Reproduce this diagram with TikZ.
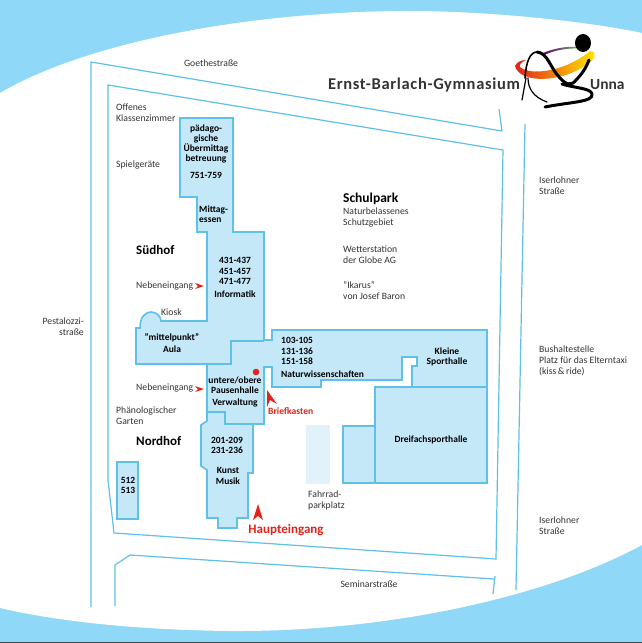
\documentclass[tikz,border=0pt]{standalone}
\usepackage{fontspec}
\setmainfont{Carlito}
\newfontfamily\titelfont[LetterSpace=4]{Carlito}
\usetikzlibrary{positioning}
\definecolor{himmel}{HTML}{8FD8F7}
\definecolor{linie}{HTML}{5FC0E8}
\definecolor{haus}{HTML}{C5E8F9}
\definecolor{rad}{HTML}{E1F2FB}
\definecolor{rot}{HTML}{E2231A}
\definecolor{schrift}{HTML}{333333}
\tikzset{
    road/.style={draw=linie,line width=1.2pt},
    bau/.style={draw=linie,fill=haus,line width=1.6pt,line join=miter},
    strasse/.style={font=\fontsize{9.7}{11}\selectfont,text=schrift,inner sep=0pt,align=left},
    links/.style={strasse,anchor=west},
    raum/.style={font=\fontsize{9.5}{10.2}\selectfont\bfseries,text=black,inner sep=0pt,align=center},
    hof/.style={font=\fontsize{13}{15}\selectfont\bfseries,text=black,inner sep=0pt,anchor=west},
    hinweis/.style={font=\fontsize{9.6}{11}\selectfont\bfseries,text=rot,inner sep=0pt},
    kopf/.style={font=\fontsize{16.5}{18}\selectfont\titelfont\bfseries,text=schrift,inner sep=0pt,anchor=west},
    pfeil/.style={fill=rot,draw=none},
    figur/.style={draw=black,line cap=round,line join=round}
}
\begin{document}
\begin{tikzpicture}[x=1pt,y=-1pt]
    \useasboundingbox (0,0) rectangle (642,643);
    % hintergrund
    \fill[himmel] (0,0) rectangle (642,643);
    \fill[white] (0,93) .. controls (90,40) and (260,10) .. (418,11)
        .. controls (500,12) and (590,22) .. (642,33) -- (642,545)
        .. controls (540,600) and (380,632) .. (230,631)
        .. controls (140,630) and (60,622) .. (0,608) -- cycle;
    \draw[black!70,line width=.8pt] (0,642.4) -- (642,642.4);

    % strassen
    \draw[road] (91,607) -- (91,62) -- (502,131) -- (499,109);
    \draw[road] (503,150) -- (108,85) -- (108,480) -- (114,533) -- (496,559) -- cycle;
    \draw[road] (115,606) -- (115,565) -- (130,555) -- (494,579);
    \draw[road] (495,576) -- (493,594);
    \draw[road] (525,124) -- (516,590);

    % gebaeude
    \draw[bau] (180,118) -- (233,118) -- (233,232) -- (264,232) -- (264,340) -- (272,340)
        -- (272,330) -- (487,330) -- (487,387) -- (412,387) -- (412,366) -- (417,366)
        -- (417,357) -- (402,357) -- (402,380) -- (321,380) -- (321,387) -- (272,387)
        -- (272,367) -- (264,367) -- (264,424) -- (253,424) -- (253,473) -- (248,473)
        -- (248,518) -- (237,518) -- (237,528) -- (218,528) -- (218,518) -- (207,518)
        -- (207,470) -- (201,466) -- (201,425) -- (207,421) -- (207,364) -- (136,364)
        -- (136,328) -- (140,328) .. controls (140,316) and (146,312) .. (151,312)
        .. controls (156,312) and (161,316) .. (161,321) -- (207,321) -- (207,232)
        -- (197,232) -- (197,197) -- (180,197) -- cycle;
    \draw[linie,line width=1.6pt] (207,364) -- (231,364) -- (231,341) -- (264,341);
    \draw[linie,line width=1.6pt] (207,412) -- (225,412) -- (225,424) -- (253,424);
    \draw[bau] (375,387) rectangle (487,483);
    \draw[bau] (343,426) rectangle (375,483);
    \draw[bau] (117,462) rectangle (138,519);
    \fill[rad] (306,425) rectangle (330,484);

    % rote marken
    \fill[rot] (256,372) circle (3.3);
    \fill[pfeil] (204,286) -- (195,283) -- (198,286) -- (195,289) -- cycle;
    \fill[pfeil] (204,389) -- (195,386) -- (198,389) -- (195,392) -- cycle;
    \fill[pfeil] (267,390) -- (267,407) -- (270,400) -- (277,404) -- cycle;
    \fill[pfeil] (258,504) -- (253,520) -- (258,516) -- (263,520) -- cycle;

    % logo
    \shade[left color=rot,middle color=orange!90!red,right color=yellow!85!orange]
        (515,66) .. controls (517,61) and (523,60) .. (526,60)
        .. controls (522,62) and (519,64) .. (520,67)
        .. controls (530,76) and (565,72) .. (590,51)
        -- (594,52) .. controls (597,58) and (590,63) .. (583,67)
        .. controls (560,82) and (520,84) .. (515,66) -- cycle;
    \shade[left color=violet!80!black,right color=green!50!black!60]
        (543,53) .. controls (555,48) and (568,46) .. (578,47)
        -- (578,48.5) .. controls (568,48) and (555,50) .. (544,55) -- cycle;
    \fill[black] (583,43) ellipse (8 and 9);
    \draw[figur,line width=1.6pt] (525,78) .. controls (526,62) and (530,52) .. (537,52);
    \draw[figur,line width=3pt] (537,52) .. controls (548,53) and (550,68) .. (560,78)
        .. controls (566,85) and (572,86) .. (576,80) .. controls (582,74) and (586,68) .. (589,60);
    \draw[figur,line width=1.2pt] (528,78) .. controls (528,88) and (533,97) .. (547,102);
    \draw[figur,line width=1.2pt] (526,78) -- (522,100);
    \draw[figur,line width=3pt] (562,84) .. controls (574,88) and (591,88) .. (592,94)
        .. controls (594,102) and (570,102) .. (545,107);

    % titel
    \node[kopf] (titel) at (328,85) {Ernst-Barlach-Gymnasium};
    \node[kopf,font=\fontsize{15.5}{18}\selectfont\bfseries] (unna) at (590,85) {Unna};

    % texte
    \node[strasse] (goethe) at (211,63) {Goethestraße};
    \node[strasse] (seminar) at (369,584) {Seminarstraße};
    \node[strasse,align=right,anchor=east] (pestalozzi) at (84,326.5) {Pestalozzi-\\straße};
    \node[links] (iser1) at (539,185.5) {Iserlohner\\Straße};
    \node[links] (iser2) at (539,525.5) {Iserlohner\\Straße};
    \node[links] (bus) at (539,361) {Bushaltestelle\\Platz für das Elterntaxi\\(kiss\,\&\,ride)};
    \node[links] (offen) at (116,112.5) {Offenes\\Klassenzimmer};
    \node[links] (spiel) at (116,165) {Spielgeräte};
    \node[links] (neben1) at (136,286) {Nebeneingang};
    \node[links] (neben2) at (136,388) {Nebeneingang};
    \node[links] (kiosk) at (161,312) {Kiosk};
    \node[links] (phaeno) at (116,416) {Phänologischer\\Garten};
    \node[links] (fahrrad) at (308,500.5) {Fahrrad-\\parkplatz};
    \node[hof] (suedhof) at (136,250) {Südhof};
    \node[hof] (nordhof) at (136,441) {Nordhof};
    \node[hof,font=\fontsize{13.5}{15}\selectfont\bfseries] (schulpark) at (343,199) {Schulpark};
    \node[links] (natur) at (343,217.5) {Naturbelassenes\\Schutzgebiet};
    \node[links] (wetter) at (343,254.5) {Wetterstation\\der Globe AG};
    \node[links] (ikarus) at (343,291) {"Ikarus"\\von Josef Baron};

    \node[raum] (paed) at (206,144) {pädago-\\gische\\Übermittag\\betreuung};
    \node[raum] (r751) at (206,175) {751-759};
    \node[raum,align=left,anchor=west] (mittag) at (199,214.5) {Mittag-\\essen};
    \node[raum] (r431) at (235,271) {431-437\\451-457\\471-477};
    \node[raum] (info) at (235,294) {Informatik};
    \node[raum] (aula) at (172,343) {"mittelpunkt"\\[1.5pt]Aula};
    \node[raum] (pause) at (235,385) {untere/obere\\Pausenhalle};
    \node[raum] (verw) at (235,403) {Verwaltung};
    \node[raum] (r201) at (227,445.5) {201-209\\231-236};
    \node[raum] (kunst) at (228,476) {Kunst\\Musik};
    \node[raum] (r512) at (128,485.5) {512\\513};
    \node[raum,align=left,anchor=west] (r103) at (281,351) {103-105\\131-136\\151-158};
    \node[raum,anchor=west] (nawi) at (281,374) {Naturwissenschaften};
    \node[raum] (kleine) at (447,357) {Kleine\\Sporthalle};
    \node[raum] (dreifach) at (431,440) {Dreifachsporthalle};
    \node[hinweis,anchor=west] (brief) at (268,411) {Briefkasten};
    \node[hinweis,font=\fontsize{13}{15}\selectfont\bfseries] (haupt) at (286,530) {Haupteingang};
\end{tikzpicture}
\end{document}
